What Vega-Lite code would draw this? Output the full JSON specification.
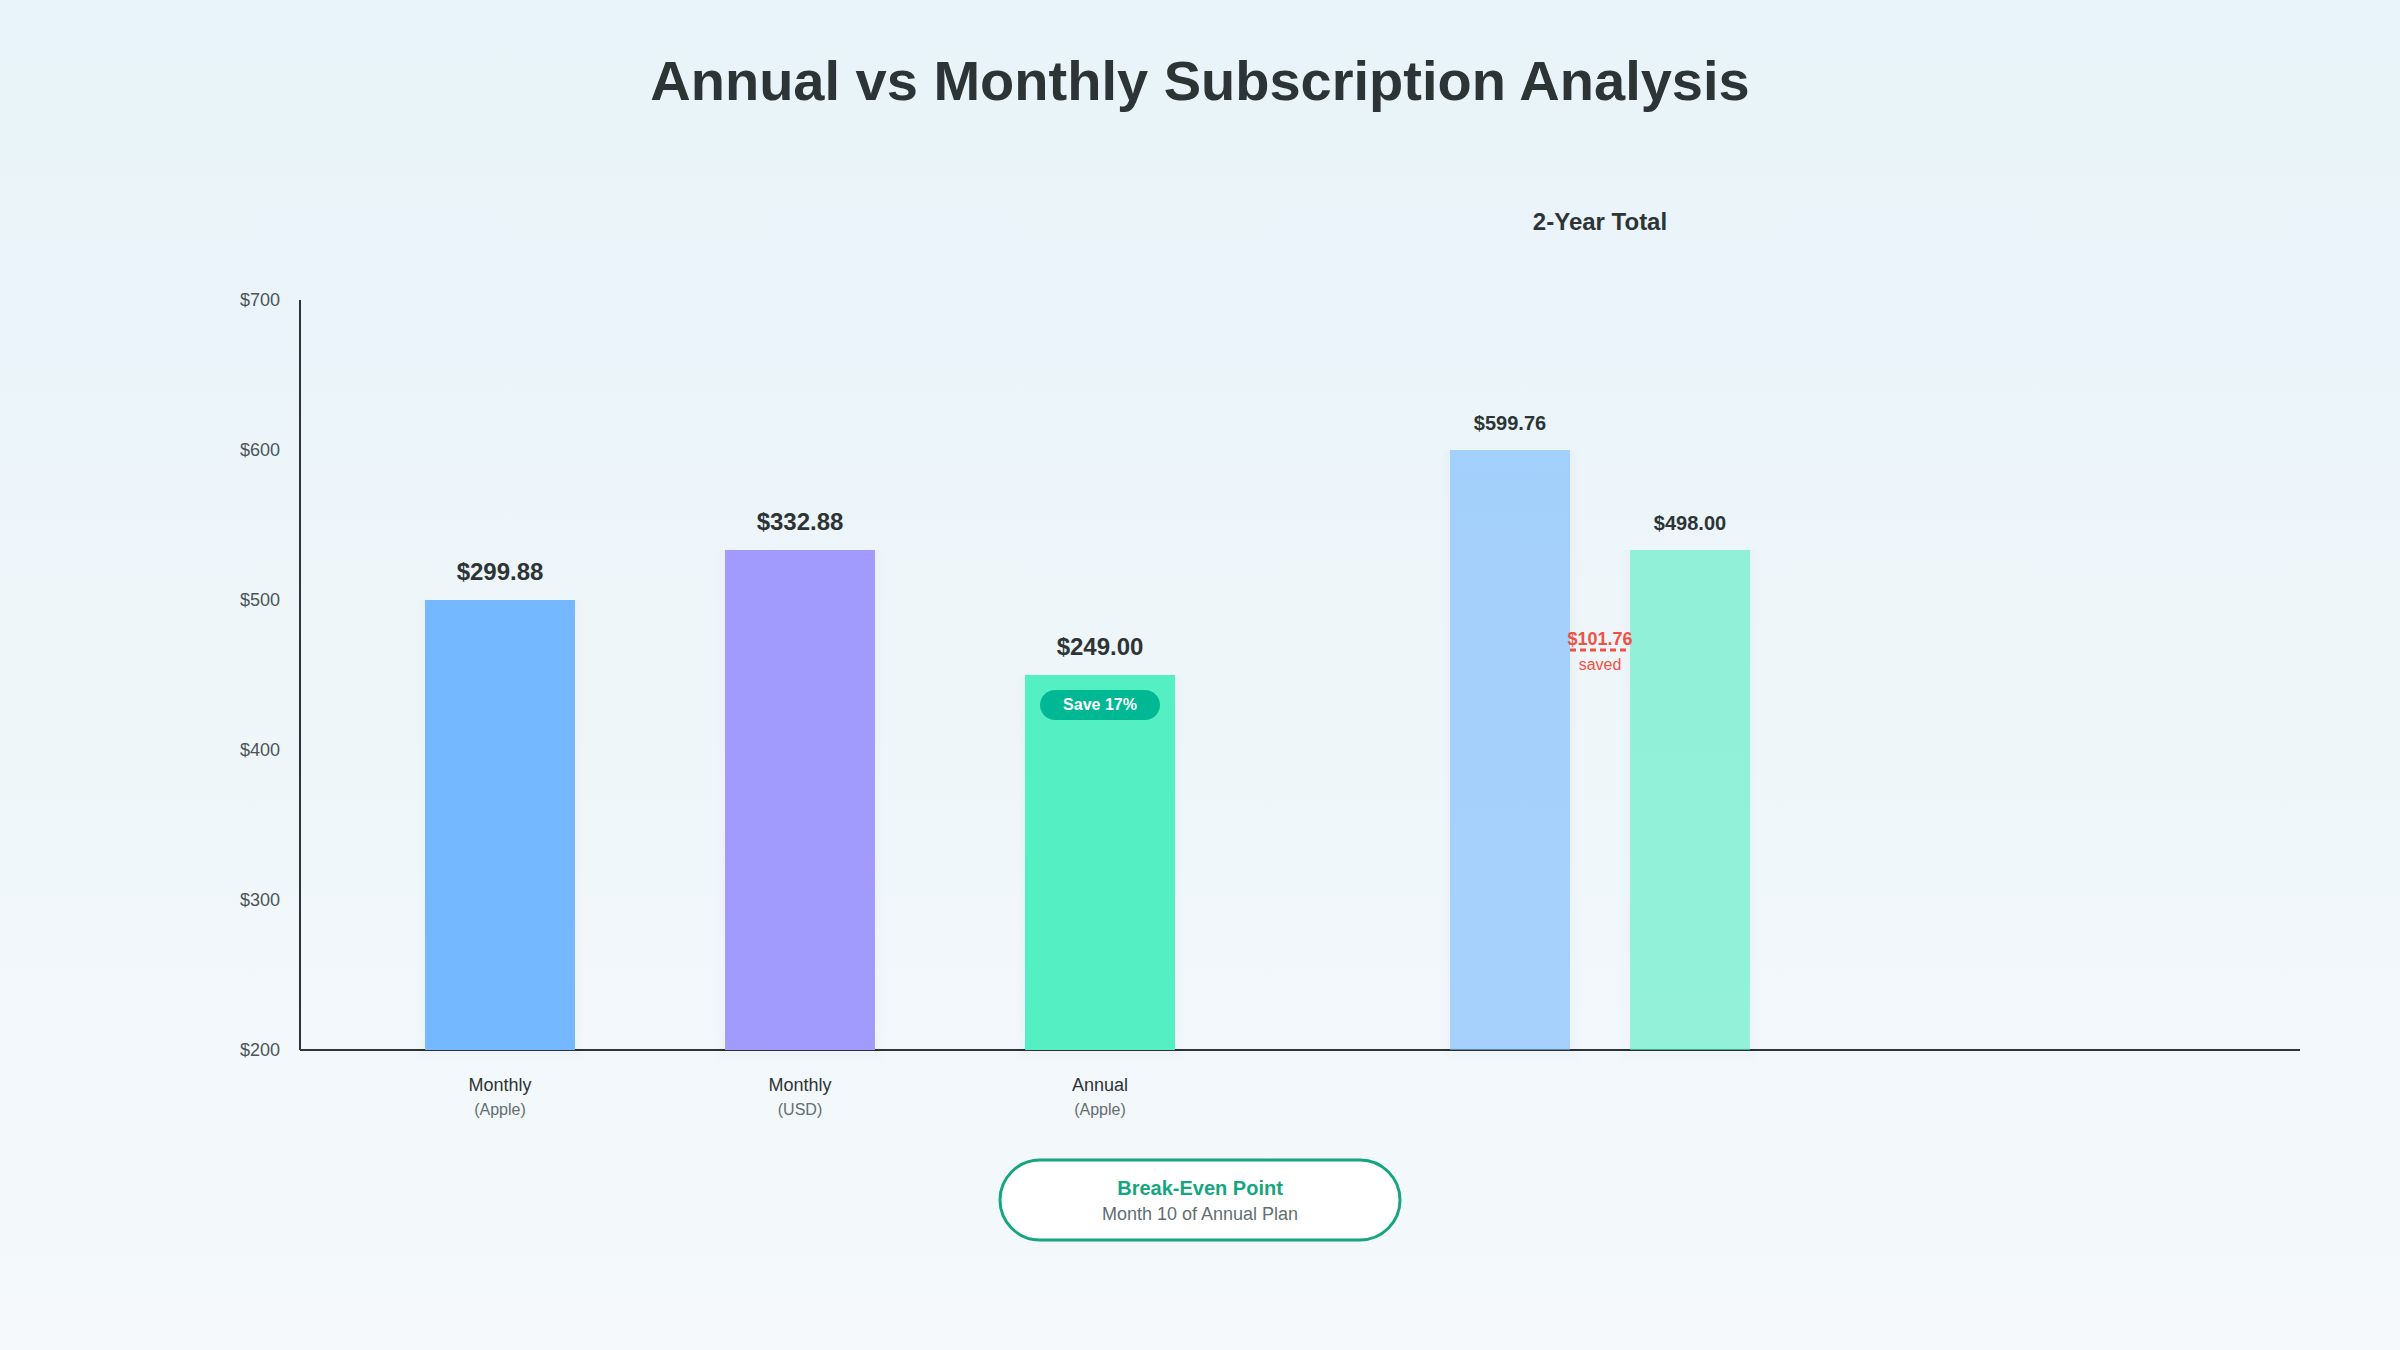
{
  "$schema": "https://vega.github.io/schema/vega-lite/v6.json",
  "width": 2000,
  "height": 750,
  "autosize": {"type": "none"},
  "padding": {"left": 300, "top": 300, "right": 100, "bottom": 300},
  "background": "#f0f6fa",
  "config": {"font": "Liberation Sans", "view": {"stroke": null}},
  "datasets": {
    "plans": [
      {"plan": "Monthly (Apple)", "name": "Monthly", "source": "(Apple)", "price": 299.88, "reading": 500},
      {"plan": "Monthly (USD)", "name": "Monthly", "source": "(USD)", "price": 332.88, "reading": 533.3},
      {"plan": "Annual (Apple)", "name": "Annual", "source": "(Apple)", "price": 249.0, "reading": 450}
    ],
    "twoYear": [
      {"plan": "Monthly", "price": 599.76, "reading": 600},
      {"plan": "Annual", "price": 498.0, "reading": 533.3}
    ],
    "note": [
      {"title": "Annual vs Monthly Subscription Analysis", "heading": "2-Year Total", "saved": "$101.76", "savedNote": "saved", "badge": "Save 17%", "callout": "Break-Even Point", "calloutNote": "Month 10 of Annual Plan"}
    ]
  },
  "layer": [
    {
      "data": {"name": "note"},
      "mark": {
        "type": "rect",
        "color": {
          "gradient": "linear", "x1": 0, "y1": 0, "x2": 0, "y2": 1,
          "stops": [
            {"offset": 0, "color": "#e8f4f9"},
            {"offset": 0.25, "color": "#ebf4fa"},
            {"offset": 0.5, "color": "#eef6f9"},
            {"offset": 1, "color": "#f5f9fc"}
          ]
        }
      },
      "encoding": {
        "x": {
          "datum": -300,
          "type": "quantitative",
          "scale": {"domain": [0, 2000], "nice": false, "zero": false},
          "axis": null
        },
        "x2": {"datum": 2100},
        "y": {
          "datum": 900,
          "type": "quantitative",
          "scale": {"domain": [200, 700], "nice": false, "zero": false},
          "axis": {
            "title": null, "values": [200, 300, 400, 500, 600, 700], "format": "$d", "ticks": false, "grid": false,
            "domainColor": "#2d3436", "domainWidth": 2, "labelPadding": 20, "labelFontSize": 18,
            "labelColor": "#4b5558", "labelBaseline": "middle", "labelOffset": 0.5, "translate": 0, "zindex": 1
          }
        },
        "y2": {"datum": 0}
      }
    },
    {
      "data": {"name": "note"},
      "mark": {"type": "text", "fontSize": 56, "fontWeight": "bold", "color": "#2d3436", "baseline": "alphabetic"},
      "encoding": {
        "x": {"datum": 900, "type": "quantitative", "scale": {"domain": [0, 2000], "nice": false, "zero": false}, "axis": null},
        "y": {"datum": 833.33, "type": "quantitative"},
        "text": {"field": "title"}
      }
    },
    {
      "data": {"name": "note"},
      "mark": {"type": "rule", "color": "#2d3436", "strokeWidth": 2},
      "encoding": {
        "x": {"datum": 0, "type": "quantitative", "scale": {"domain": [0, 2000], "nice": false, "zero": false}, "axis": null},
        "x2": {"datum": 2000},
        "y": {"datum": 200, "type": "quantitative"}
      }
    },
    {
      "data": {"name": "plans"},
      "mark": {"type": "bar", "color": "#000000", "opacity": 0.005, "size": 168},
      "encoding": {
        "x": {
          "field": "plan", "type": "nominal", "sort": null,
          "scale": {"domain": ["Monthly (Apple)", "Monthly (USD)", "Annual (Apple)"], "range": [50, 950], "paddingInner": 0.5, "paddingOuter": 0.25},
          "axis": null
        },
        "y": {"field": "reading", "type": "quantitative", "stack": null},
        "y2": {"datum": 192}
      }
    },
    {
      "data": {"name": "plans"},
      "mark": {"type": "bar", "color": "#000000", "opacity": 0.008, "size": 160},
      "encoding": {
        "x": {
          "field": "plan", "type": "nominal", "sort": null,
          "scale": {"domain": ["Monthly (Apple)", "Monthly (USD)", "Annual (Apple)"], "range": [50, 950], "paddingInner": 0.5, "paddingOuter": 0.25},
          "axis": null
        },
        "y": {"field": "reading", "type": "quantitative", "stack": null},
        "y2": {"datum": 196}
      }
    },
    {
      "data": {"name": "twoYear"},
      "mark": {"type": "bar", "color": "#000000", "opacity": 0.005, "size": 138},
      "encoding": {
        "x": {
          "field": "plan", "type": "nominal", "sort": null,
          "scale": {"domain": ["Monthly", "Annual"], "range": [1120, 1480], "paddingInner": 0.3333, "paddingOuter": 0.1667},
          "axis": null
        },
        "y": {"field": "reading", "type": "quantitative", "stack": null},
        "y2": {"datum": 192}
      }
    },
    {
      "data": {"name": "twoYear"},
      "mark": {"type": "bar", "color": "#000000", "opacity": 0.008, "size": 130},
      "encoding": {
        "x": {
          "field": "plan", "type": "nominal", "sort": null,
          "scale": {"domain": ["Monthly", "Annual"], "range": [1120, 1480], "paddingInner": 0.3333, "paddingOuter": 0.1667},
          "axis": null
        },
        "y": {"field": "reading", "type": "quantitative", "stack": null},
        "y2": {"datum": 196}
      }
    },
    {
      "data": {"name": "plans"},
      "mark": {"type": "bar", "stroke": null},
      "encoding": {
        "x": {
          "field": "plan", "type": "nominal", "sort": null,
          "scale": {"domain": ["Monthly (Apple)", "Monthly (USD)", "Annual (Apple)"], "range": [50, 950], "paddingInner": 0.5, "paddingOuter": 0.25},
          "axis": null
        },
        "y": {"field": "reading", "type": "quantitative", "stack": null},
        "y2": {"datum": 200},
        "color": {
          "field": "plan", "type": "nominal", "legend": null,
          "scale": {"domain": ["Monthly (Apple)", "Monthly (USD)", "Annual (Apple)"], "range": ["#74b9ff", "#a29bfe", "#55efc4"]}
        }
      }
    },
    {
      "data": {"name": "plans"},
      "mark": {"type": "text", "fontSize": 24, "fontWeight": "bold", "color": "#2d3436", "baseline": "alphabetic", "dy": -20},
      "encoding": {
        "x": {
          "field": "plan", "type": "nominal", "sort": null,
          "scale": {"domain": ["Monthly (Apple)", "Monthly (USD)", "Annual (Apple)"], "range": [50, 950], "paddingInner": 0.5, "paddingOuter": 0.25},
          "axis": null
        },
        "y": {"field": "reading", "type": "quantitative", "stack": null},
        "text": {"field": "price", "type": "quantitative", "format": "$.2f"}
      }
    },
    {
      "data": {"name": "plans"},
      "mark": {"type": "text", "fontSize": 18, "color": "#2d3436", "baseline": "alphabetic", "dy": 41},
      "encoding": {
        "x": {
          "field": "plan", "type": "nominal", "sort": null,
          "scale": {"domain": ["Monthly (Apple)", "Monthly (USD)", "Annual (Apple)"], "range": [50, 950], "paddingInner": 0.5, "paddingOuter": 0.25},
          "axis": null
        },
        "y": {"datum": 200, "type": "quantitative"},
        "text": {"field": "name"}
      }
    },
    {
      "data": {"name": "plans"},
      "mark": {"type": "text", "fontSize": 16, "color": "#636e72", "baseline": "alphabetic", "dy": 65},
      "encoding": {
        "x": {
          "field": "plan", "type": "nominal", "sort": null,
          "scale": {"domain": ["Monthly (Apple)", "Monthly (USD)", "Annual (Apple)"], "range": [50, 950], "paddingInner": 0.5, "paddingOuter": 0.25},
          "axis": null
        },
        "y": {"datum": 200, "type": "quantitative"},
        "text": {"field": "source"}
      }
    },
    {
      "data": {"name": "twoYear"},
      "mark": {"type": "bar", "opacity": 0.6},
      "encoding": {
        "x": {
          "field": "plan", "type": "nominal", "sort": null,
          "scale": {"domain": ["Monthly", "Annual"], "range": [1120, 1480], "paddingInner": 0.3333, "paddingOuter": 0.1667},
          "axis": null
        },
        "y": {"field": "reading", "type": "quantitative", "stack": null},
        "y2": {"datum": 200},
        "fill": {
          "field": "plan", "type": "nominal", "legend": null,
          "scale": {"domain": ["Monthly", "Annual"], "range": ["#74b9ff", "#55efc4"]}
        }
      }
    },
    {
      "data": {"name": "twoYear"},
      "mark": {"type": "text", "fontSize": 20, "fontWeight": "bold", "color": "#2d3436", "baseline": "alphabetic", "dy": -20},
      "encoding": {
        "x": {
          "field": "plan", "type": "nominal", "sort": null,
          "scale": {"domain": ["Monthly", "Annual"], "range": [1120, 1480], "paddingInner": 0.3333, "paddingOuter": 0.1667},
          "axis": null
        },
        "y": {"field": "reading", "type": "quantitative", "stack": null},
        "text": {"field": "price", "type": "quantitative", "format": "$.2f"}
      }
    },
    {
      "data": {"name": "note"},
      "mark": {"type": "text", "fontSize": 24, "fontWeight": "bold", "color": "#2d3436", "baseline": "alphabetic"},
      "encoding": {
        "x": {"datum": 1300, "type": "quantitative", "scale": {"domain": [0, 2000], "nice": false, "zero": false}, "axis": null},
        "y": {"datum": 746.67, "type": "quantitative"},
        "text": {"field": "heading"}
      }
    },
    {
      "data": {"name": "note"},
      "mark": {"type": "rule", "color": "#ef5145", "strokeWidth": 3, "strokeDash": [6, 4]},
      "encoding": {
        "x": {"datum": 1270, "type": "quantitative", "scale": {"domain": [0, 2000], "nice": false, "zero": false}, "axis": null},
        "x2": {"datum": 1330},
        "y": {"datum": 466.67, "type": "quantitative"}
      }
    },
    {
      "data": {"name": "note"},
      "mark": {"type": "text", "fontSize": 18, "fontWeight": "bold", "color": "#ef5145", "baseline": "alphabetic"},
      "encoding": {
        "x": {"datum": 1300, "type": "quantitative", "scale": {"domain": [0, 2000], "nice": false, "zero": false}, "axis": null},
        "y": {"datum": 470, "type": "quantitative"},
        "text": {"field": "saved"}
      }
    },
    {
      "data": {"name": "note"},
      "mark": {"type": "text", "fontSize": 16, "color": "#ef5145", "baseline": "alphabetic"},
      "encoding": {
        "x": {"datum": 1300, "type": "quantitative", "scale": {"domain": [0, 2000], "nice": false, "zero": false}, "axis": null},
        "y": {"datum": 453.33, "type": "quantitative"},
        "text": {"field": "savedNote"}
      }
    },
    {
      "data": {"name": "note"},
      "mark": {"type": "bar", "color": "#00b894", "cornerRadius": 15, "size": 120},
      "encoding": {
        "x": {
          "datum": "Annual (Apple)", "type": "nominal",
          "scale": {"domain": ["Monthly (Apple)", "Monthly (USD)", "Annual (Apple)"], "range": [50, 950], "paddingInner": 0.5, "paddingOuter": 0.25},
          "axis": null
        },
        "y": {"datum": 440, "type": "quantitative"},
        "y2": {"datum": 420}
      }
    },
    {
      "data": {"name": "note"},
      "mark": {"type": "text", "fontSize": 16, "fontWeight": "bold", "color": "#ffffff", "baseline": "middle"},
      "encoding": {
        "x": {
          "datum": "Annual (Apple)", "type": "nominal",
          "scale": {"domain": ["Monthly (Apple)", "Monthly (USD)", "Annual (Apple)"], "range": [50, 950], "paddingInner": 0.5, "paddingOuter": 0.25},
          "axis": null
        },
        "y": {"datum": 430, "type": "quantitative"},
        "text": {"field": "badge"}
      }
    },
    {
      "data": {"name": "note"},
      "mark": {"type": "rect", "fill": "#ffffff", "stroke": "#16a67f", "strokeWidth": 3, "cornerRadius": 40},
      "encoding": {
        "x": {"datum": 700, "type": "quantitative", "scale": {"domain": [0, 2000], "nice": false, "zero": false}, "axis": null},
        "x2": {"datum": 1100},
        "y": {"datum": 126.67, "type": "quantitative"},
        "y2": {"datum": 73.33}
      }
    },
    {
      "data": {"name": "note"},
      "mark": {"type": "text", "fontSize": 20, "fontWeight": "bold", "color": "#16a67f", "baseline": "alphabetic"},
      "encoding": {
        "x": {"datum": 900, "type": "quantitative", "scale": {"domain": [0, 2000], "nice": false, "zero": false}, "axis": null},
        "y": {"datum": 103.33, "type": "quantitative"},
        "text": {"field": "callout"}
      }
    },
    {
      "data": {"name": "note"},
      "mark": {"type": "text", "fontSize": 18, "color": "#636e72", "baseline": "alphabetic"},
      "encoding": {
        "x": {"datum": 900, "type": "quantitative", "scale": {"domain": [0, 2000], "nice": false, "zero": false}, "axis": null},
        "y": {"datum": 86.67, "type": "quantitative"},
        "text": {"field": "calloutNote"}
      }
    }
  ],
  "resolve": {"scale": {"x": "independent", "color": "independent", "fill": "independent"}, "axis": {"x": "independent"}}
}
